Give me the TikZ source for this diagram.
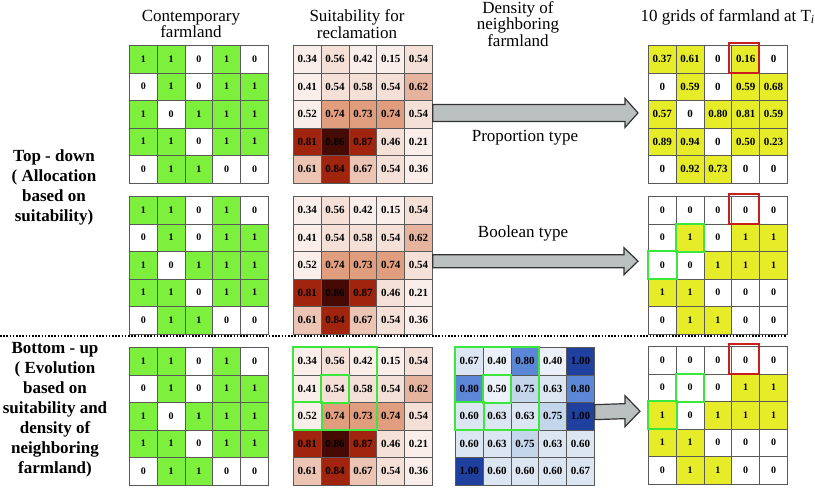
\documentclass[tikz,border=0pt]{standalone}
\usepackage{fontspec}
\setmainfont{Liberation Serif}
\usetikzlibrary{calc}
\usetikzlibrary{positioning}

\definecolor{gridline}{RGB}{90,90,90}
\definecolor{farmgreen}{RGB}{124,240,60}
\definecolor{gridyellow}{RGB}{230,236,40}
\colorlet{farm0}{white}
\colorlet{farm1}{farmgreen}
\colorlet{res0}{white}
\colorlet{res1}{gridyellow}
\definecolor{shade1}{RGB}{249,238,234}
\definecolor{shade2}{RGB}{245,224,216}
\definecolor{shade3}{RGB}{236,196,180}
\definecolor{shade4}{RGB}{230,180,158}
\definecolor{shade5}{RGB}{225,158,126}
\definecolor{shade6}{RGB}{160,36,14}
\definecolor{shade7}{RGB}{70,10,5}
\definecolor{blue1}{RGB}{236,240,248}
\definecolor{blue2}{RGB}{220,230,243}
\definecolor{blue3}{RGB}{196,214,236}
\definecolor{blue4}{RGB}{92,134,214}
\definecolor{blue5}{RGB}{32,64,160}
\definecolor{pickgreen}{RGB}{60,230,60}
\definecolor{targetred}{RGB}{200,30,30}
\definecolor{arrowgray}{RGB}{186,192,192}

\tikzset{
  cell/.style={draw=gridline, line width=0.8pt, minimum width=27.8pt, minimum height=27.5pt,
    inner sep=0pt, anchor=north west, font=\bfseries\fontsize{11}{11}\selectfont},
  title/.style={align=center, font=\fontsize{17}{14}\selectfont},
  typelabel/.style={font=\fontsize{17}{14}\selectfont},
  side/.style={align=center, font=\bfseries\fontsize{17}{20}\selectfont},
  picked/.style={draw=pickgreen, line width=2pt},
  target/.style={draw=targetred, line width=2pt},
  bigarrow/.style={draw=black!80, line width=1.2pt, fill=arrowgray, line join=miter},
  divider/.style={line width=2pt, dash pattern=on 1.6pt off 1.6pt}
}

\newcommand\blockarrow[5]{%
  \draw[bigarrow] ($(#1)+(0,-#3)$) -- ($(#2)+(-#5,-#3)$) -- ($(#2)+(-#5,-#4)$) -- (#2)
    -- ($(#2)+(-#5,#4)$) -- ($(#2)+(-#5,#3)$) -- ($(#1)+(0,#3)$) -- cycle;}

\begin{document}
\begin{tikzpicture}[x=1pt, y=-1pt]
  \useasboundingbox (0,0) rectangle (815,488);

  \node[title] (farmtitle) at (191,24) {Contemporary\\farmland};
  \node[title] (suittitle) at (357,24) {Suitability for\\reclamation};
  \node[title] (denstitle) at (518,24) {Density of\\neighboring\\farmland};
  \node[title, anchor=west] (restitle) at (637,17) {10 grids of farmland at T\textsubscript{\textit{i}}};

  \node[side] (topdown) at (54,187.5) {Top - down\\( Allocation\\based on\\suitability)};
  \node[side] (bottomup) at (55,410) {Bottom - up\\( Evolution\\based on\\suitability and\\density of\\neighboring\\farmland)};

  \foreach \sec/\top in {A/45,B/196,C/347}
    \foreach \row [count=\r] in {{1,1,0,1,0},{0,1,0,1,1},{1,0,1,1,1},{1,1,0,1,1},{0,1,1,0,0}}
      \foreach \v [count=\c] in \row
        \node[cell, fill=farm\v, font=\bfseries\fontsize{10}{10}\selectfont] (farm\sec-\r-\c)
          at ({129+(\c-1)*27.8}, {\top+(\r-1)*27.5}) {\v};

  \foreach \sec/\top in {A/45,B/196,C/347}
    \foreach \row [count=\r] in {
        {0.34/shade1,0.56/shade2,0.42/shade1,0.15/shade1,0.54/shade2},
        {0.41/shade1,0.54/shade2,0.58/shade2,0.54/shade2,0.62/shade4},
        {0.52/shade1,0.74/shade5,0.73/shade5,0.74/shade5,0.54/shade2},
        {0.81/shade6,0.86/shade7,0.87/shade6,0.46/shade2,0.21/shade1},
        {0.61/shade3,0.84/shade6,0.67/shade3,0.54/shade2,0.36/shade1}}
      \foreach \v/\f [count=\c] in \row
        \node[cell, fill=\f] (suit\sec-\r-\c) at ({293+(\c-1)*27.8}, {\top+(\r-1)*27.5}) {\v};

  \foreach \row [count=\r] in {
      {0.67/blue2,0.40/blue1,0.80/blue4,0.40/blue1,1.00/blue5},
      {0.80/blue4,0.50/blue1,0.75/blue3,0.63/blue2,0.80/blue4},
      {0.60/blue2,0.63/blue2,0.63/blue2,0.75/blue3,1.00/blue5},
      {0.60/blue2,0.63/blue2,0.75/blue3,0.63/blue2,0.60/blue2},
      {1.00/blue5,0.60/blue2,0.60/blue2,0.60/blue2,0.67/blue2}}
    \foreach \v/\f [count=\c] in \row
      \node[cell, fill=\f] (densC-\r-\c) at ({455+(\c-1)*27.8}, {347+(\r-1)*27.5}) {\v};

  \foreach \row [count=\r] in {
      {0.37/1,0.61/1,0/0,0.16/1,0/0},
      {0/0,0.59/1,0/0,0.59/1,0.68/1},
      {0.57/1,0/0,0.80/1,0.81/1,0.59/1},
      {0.89/1,0.94/1,0/0,0.50/1,0.23/1},
      {0/0,0.92/1,0.73/1,0/0,0/0}}
    \foreach \v/\f [count=\c] in \row
      \node[cell, fill=res\f] (resA-\r-\c) at ({648+(\c-1)*27.8}, {45+(\r-1)*27.5}) {\v};

  \foreach \row [count=\r] in {{0,0,0,0,0},{0,1,0,1,1},{0,0,1,1,1},{1,1,0,0,0},{0,1,1,0,0}}
    \foreach \v [count=\c] in \row
      \node[cell, fill=res\v, font=\bfseries\fontsize{10}{10}\selectfont] (resB-\r-\c)
        at ({648+(\c-1)*27.8}, {196+(\r-1)*27.5}) {\v};

  \foreach \row [count=\r] in {{0,0,0,0,0},{0,0,0,1,1},{1,0,1,1,1},{1,1,0,0,0},{0,1,1,0,0}}
    \foreach \v [count=\c] in \row
      \node[cell, fill=res\v, font=\bfseries\fontsize{10}{10}\selectfont] (resC-\r-\c)
        at ({648+(\c-1)*27.8}, {346+(\r-1)*27.5}) {\v};

  \draw[divider] (0,336) -- (787,336);

  \foreach \g in {suitC,densC} {
    \draw[picked] (\g-1-1.north west) rectangle (\g-3-3.south east);
    \draw[picked] (\g-2-2.north west) rectangle (\g-2-2.south east);
    \draw[picked] (\g-3-1.north west) rectangle (\g-3-1.south east);
  }
  \foreach \g in {resB,resC} {
    \draw[picked] (\g-2-2.north west) rectangle (\g-2-2.south east);
    \draw[picked] (\g-3-1.north west) rectangle (\g-3-1.south east);
  }
  \foreach \g in {resA,resB,resC}
    \draw[target] ($(\g-1-4.north west)+(-2,-2)$) rectangle ($(\g-1-4.south east)+(-1,0)$);

  \coordinate (propstart) at ($(suitA-3-5.east)+(0,-1.25)$);
  \coordinate (proptip) at ($(resA-3-1.west)+(-10,-1.25)$);
  \coordinate (boolstart) at ($(suitB-3-5.east)+(0,-4)$);
  \coordinate (booltip) at ($(resB-3-1.west)+(-10,-4)$);
  \coordinate (evolstart) at ($(densC-3-5.east)+(0,-4)$);
  \coordinate (evoltip) at ($(resC-3-1.west)+(-8,-4)$);
  \blockarrow{propstart}{proptip}{8.5}{14.5}{13}
  \blockarrow{boolstart}{booltip}{6.5}{13.5}{14}
  \blockarrow{evolstart}{evoltip}{7.5}{15.5}{15}

  \node[typelabel] (proplabel) at (525,138) {Proportion type};
  \node[typelabel] (boollabel) at (523,233) {Boolean type};
\end{tikzpicture}
\end{document}
